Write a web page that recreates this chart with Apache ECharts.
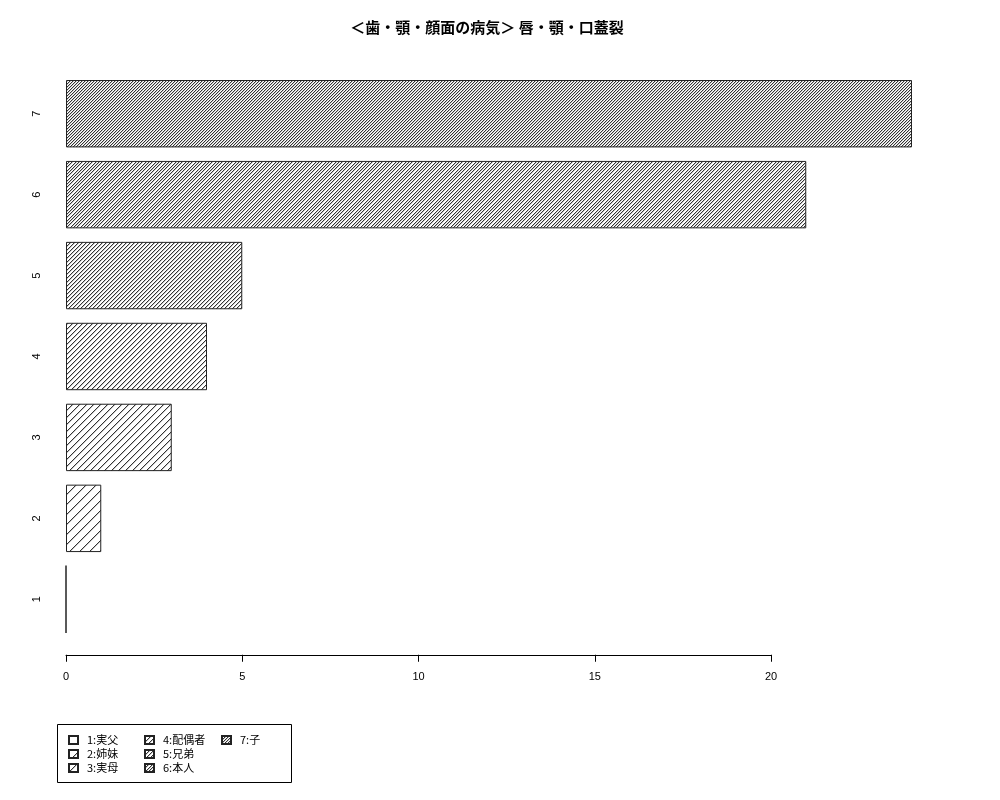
<!DOCTYPE html>
<html>
<head>
<meta charset="utf-8">
<script src="https://cdn.jsdelivr.net/npm/echarts@6/dist/echarts.min.js"></script>
<style>
html,body{margin:0;padding:0;background:#fff;}
#main{width:1000px;height:800px;}
</style>
</head>
<body>
<div id="main"></div>
<script>
// 数据
var categories = ['1', '2', '3', '4', '5', '6', '7'];
var names = ['1:実父', '2:姉妹', '3:実母', '4:配偶者', '5:兄弟', '6:本人', '7:子'];
var values = [0, 1, 3, 4, 5, 21, 24];
var densities = [5, 10, 15, 20, 25, 30, 35]; // 斜線密度 (本/inch)
var xTicks = [0, 5, 10, 15, 20];

var baseFont = 'Liberation Sans, Arial, sans-serif';
var cjkFont = 'Noto Sans CJK JP, sans-serif';

// 斜線パターン (1px の階段状の線 + 薄いにじみ)
function hatch(d){
	var s = 72 * Math.SQRT2 / d;
	var best = 1, err = 9;
	for(var k = 1; k <= 3; k++){
		var e = Math.abs(Math.round(k * s) - k * s);
		if(e < err){ err = e; best = k; }
	}
	var L = Math.round(best * s);
	var on = {};
	for(var j = 0; j < best; j++){
		on[Math.round(j * L / best) % L] = true;
	}
	var cv = document.createElement('canvas');
	cv.width = L; cv.height = L;
	var ctx = cv.getContext('2d');
	ctx.fillStyle = '#fff';
	ctx.fillRect(0, 0, L, L);
	for(var x = 0; x < L; x++){
		for(var y = 0; y < L; y++){
			var p = (x + y) % L;
			if(on[p]){
				ctx.fillStyle = '#333';
				ctx.fillRect(x, y, 1, 1);
			}else if(on[(p + L - 1) % L]){
				ctx.fillStyle = '#c8c8c8';
				ctx.fillRect(x, y, 1, 1);
			}
		}
	}
	return {image: cv, repeat: 'repeat'};
}

var chart = echarts.init(document.getElementById('main'));

var series = [];
for(var i = 0; i < values.length; i++){
	var d = [];
	for(var j = 0; j < values.length; j++){
		d.push(j === i ? values[j] : '-');
	}
	series.push({
		name: names[i],
		type: 'bar',
		stack: 'all',
		clip: false,
		barCategoryGap: '16.7%',
		data: d,
		itemStyle: {color: hatch(densities[i]), borderColor: '#222', borderWidth: 1},
		emphasis: {disabled: true}
	});
}

function legendCol(items, left){
	return {
		orient: 'vertical',
		left: left,
		top: 734,
		padding: 0,
		icon: 'rect',
		itemWidth: 9,
		itemHeight: 8,
		itemGap: 2,
		selectedMode: false,
		data: items,
		textStyle: {fontFamily: cjkFont, fontSize: 11, color: '#000', lineHeight: 12, padding: [0, 0, 0, 4]}
	};
}

var option = {
	backgroundColor: '#fff',
	animation: false,
	title: {
		text: '＜歯・顎・顔面の病気＞ 唇・顎・口蓋裂',
		left: 487,
		textAlign: 'center',
		top: 20,
		padding: 0,
		textStyle: {fontFamily: cjkFont, fontSize: 15, fontWeight: 'bold', color: '#000'}
	},
	legend: [
		legendCol([names[0], names[1], names[2]], 68),
		legendCol([names[3], names[4], names[5]], 144),
		legendCol([names[6]], 221)
	],
	grid: {left: 66, right: 229, top: 73.25, bottom: 160.25, containLabel: false},
	xAxis: {
		type: 'value',
		min: xTicks[0],
		max: xTicks[xTicks.length - 1],
		interval: 5,
		offset: 15,
		axisLine: {show: true, lineStyle: {color: '#000', width: 1}},
		axisTick: {show: true, length: 7, lineStyle: {color: '#000'}},
		axisLabel: {fontFamily: baseFont, fontSize: 11, color: '#000', margin: 17},
		splitLine: {show: false}
	},
	yAxis: {
		type: 'category',
		data: categories,
		axisLine: {show: false},
		axisTick: {show: false},
		axisLabel: {rotate: 90, fontFamily: baseFont, fontSize: 11, color: '#000', margin: 24}
	},
	graphic: [{
		type: 'rect',
		left: 55,
		top: 722,
		shape: {width: 234, height: 58},
		style: {fill: null, stroke: '#000', lineWidth: 1}
	}],
	series: series
};
chart.setOption(option);
</script>
</body>
</html>
